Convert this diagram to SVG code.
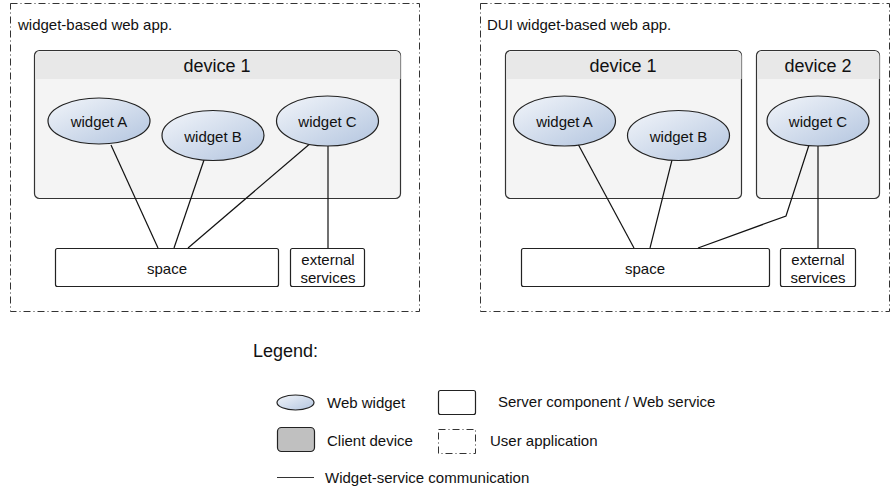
<svg xmlns="http://www.w3.org/2000/svg" width="894" height="489" viewBox="0 0 894 489">
<defs>
<linearGradient id="wg" x1="0" y1="0" x2="1" y2="1">
<stop offset="0" stop-color="#f2f5fa"/>
<stop offset="1" stop-color="#b3c5df"/>
</linearGradient>
<style>
text{font-family:"Liberation Sans",Arial,sans-serif;fill:#111}
.app{fill:none;stroke:#333;stroke-width:1;stroke-dasharray:7,3,1,3}
.dev{fill:#f4f4f4;stroke:#333;stroke-width:1.2}
.hdr{fill:#e8e8e8}
.wid{fill:url(#wg);stroke:#222;stroke-width:1.2}
.srv{fill:#fff;stroke:#222;stroke-width:1.2}
.t13{font-size:15px}
.t17{font-size:18px}
.con line,.con polyline{stroke:#111;stroke-width:1.2;fill:none}
</style>
</defs>
<rect width="894" height="489" fill="#fff"/>

<g id="app1">
<rect class="app" x="10.5" y="3.5" width="409" height="308"/>
<text class="t13" x="18" y="30">widget-based web app.</text>
</g>
<g id="app2">
<rect class="app" x="480.5" y="3.5" width="409" height="308"/>
<text class="t13" x="487" y="30">DUI widget-based web app.</text>
</g>

<g id="l-device1">
<rect class="dev" x="34.5" y="50.5" width="366" height="148" rx="5"/>
<path class="hdr" d="M35.5 56 a4.5 4.5 0 0 1 4.5 -4.5 h356 a4.5 4.5 0 0 1 4.5 4.5 V79 H35.5 Z"/>
<text class="t17" x="217" y="72" text-anchor="middle">device 1</text>
</g>
<g id="r-device1">
<rect class="dev" x="505.5" y="50.5" width="236" height="148" rx="5"/>
<path class="hdr" d="M506.5 56 a4.5 4.5 0 0 1 4.5 -4.5 h226 a4.5 4.5 0 0 1 4.5 4.5 V79 H506.5 Z"/>
<text class="t17" x="623" y="72" text-anchor="middle">device 1</text>
</g>
<g id="r-device2">
<rect class="dev" x="756.5" y="50.5" width="123" height="148" rx="5"/>
<path class="hdr" d="M757.5 56 a4.5 4.5 0 0 1 4.5 -4.5 h113 a4.5 4.5 0 0 1 4.5 4.5 V79 H757.5 Z"/>
<text class="t17" x="818" y="72" text-anchor="middle">device 2</text>
</g>

<g class="con" id="connectors">
<line x1="111" y1="145" x2="158" y2="248"/>
<line x1="204" y1="160" x2="174" y2="248"/>
<line x1="312" y1="142" x2="188" y2="248"/>
<line x1="328" y1="146" x2="328" y2="248"/>
<line x1="578" y1="144" x2="634" y2="248"/>
<line x1="672" y1="160" x2="650" y2="248"/>
<polyline points="809,145 786,216 698,248"/>
<line x1="818" y1="146" x2="818" y2="248"/>
</g>

<g id="l-widgetA"><ellipse class="wid" cx="99" cy="121" rx="51" ry="23"/><text class="t13" x="99" y="127" text-anchor="middle">widget A</text></g>
<g id="l-widgetB"><ellipse class="wid" cx="213" cy="135.5" rx="51" ry="25"/><text class="t13" x="213" y="141.5" text-anchor="middle">widget B</text></g>
<g id="l-widgetC"><ellipse class="wid" cx="327.5" cy="121" rx="51" ry="25"/><text class="t13" x="327.5" y="127" text-anchor="middle">widget C</text></g>
<g id="r-widgetA"><ellipse class="wid" cx="564.5" cy="121" rx="51" ry="25"/><text class="t13" x="564.5" y="127" text-anchor="middle">widget A</text></g>
<g id="r-widgetB"><ellipse class="wid" cx="678.5" cy="135.5" rx="51" ry="25"/><text class="t13" x="678.5" y="141.5" text-anchor="middle">widget B</text></g>
<g id="r-widgetC"><ellipse class="wid" cx="818" cy="121" rx="51" ry="25"/><text class="t13" x="818" y="127" text-anchor="middle">widget C</text></g>

<g id="l-space"><rect class="srv" x="55.5" y="248.5" width="223" height="38" rx="2"/><text class="t13" x="167" y="273.5" text-anchor="middle">space</text></g>
<g id="l-ext"><rect class="srv" x="290.5" y="248.5" width="74" height="38" rx="2"/><text class="t13" x="328" y="265" text-anchor="middle">external</text><text class="t13" x="328" y="283" text-anchor="middle">services</text></g>
<g id="r-space"><rect class="srv" x="521.5" y="248.5" width="248" height="38" rx="2"/><text class="t13" x="645" y="273.5" text-anchor="middle">space</text></g>
<g id="r-ext"><rect class="srv" x="780.5" y="248.5" width="75" height="38" rx="2"/><text class="t13" x="818" y="265" text-anchor="middle">external</text><text class="t13" x="818" y="283" text-anchor="middle">services</text></g>

<g id="legend">
<text x="253" y="357" font-size="18">Legend:</text>
<ellipse class="wid" cx="295.5" cy="402.5" rx="18.5" ry="7.5"/>
<text class="t13" x="327" y="408">Web widget</text>
<rect x="277.5" y="427.5" width="37" height="24" rx="4" fill="#c0c0c0" stroke="#222" stroke-width="1.2"/>
<text class="t13" x="327" y="446">Client device</text>
<rect class="srv" x="438.5" y="390.5" width="37" height="24" rx="2"/>
<text class="t13" x="498" y="407">Server component / Web service</text>
<rect class="app" x="438.5" y="429.5" width="37" height="24"/>
<text class="t13" x="490" y="446">User application</text>
<line x1="277" y1="477.5" x2="314" y2="477.5" stroke="#333" stroke-width="1.2"/>
<text class="t13" x="325" y="483">Widget-service communication</text>
</g>
</svg>
